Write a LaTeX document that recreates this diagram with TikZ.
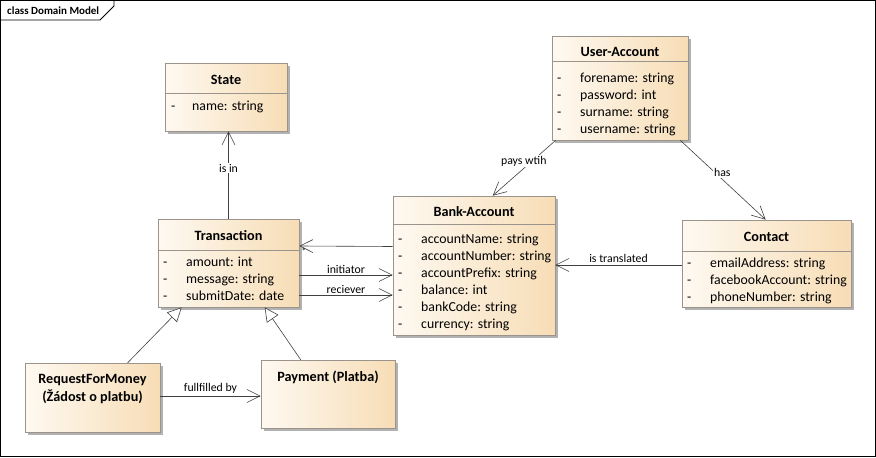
\documentclass[tikz,border=0pt]{standalone}
\usepackage{fontspec}
\setmainfont{Carlito}
\usetikzlibrary{arrows.meta,shadows}
\definecolor{creamL}{HTML}{FEF9F1}
\definecolor{creamR}{HTML}{F7DDB6}
\definecolor{boxline}{HTML}{9A948C}
\definecolor{wire}{HTML}{404040}
\begin{document}
\begin{tikzpicture}[x=1pt, y=-1pt,
    every node/.style={font=\fontsize{13.8}{16}\selectfont},
    classbox/.style={draw=boxline, line width=0.6pt, left color=creamL, right color=creamR,
      drop shadow={shadow xshift=3pt, shadow yshift=-3pt, fill=black!30, opacity=1}, inner sep=0pt},
    title/.style={font=\fontsize{14.2}{18}\selectfont\bfseries, align=center, inner sep=0pt},
    attr/.style={anchor=west, inner sep=0pt, text height=9.5pt, text depth=2.5pt},
    sepline/.style={draw=boxline, line width=0.6pt},
    assoc/.style={draw=wire, line width=0.6pt, -{Straight Barb[length=13pt, width=13pt]}},
    general/.style={draw=wire, line width=0.6pt, -{Triangle[open, length=14pt, width=14pt, fill=white]}},
    lbl/.style={font=\fontsize{11.8}{13}\selectfont, inner sep=1pt}]
  \useasboundingbox (0,0) rectangle (876,458);

  % Frame
  \draw[line width=0.8pt] (0.5,0.5) rectangle (875.5,456.5);
  \draw[line width=0.8pt] (0.5,20) -- (100,20) -- (114,6) -- (114,0.5);
  \node[font=\fontsize{11}{12}\selectfont\bfseries, anchor=west, inner sep=0pt] (frame) at (7,11) {class Domain Model};

  % Classes
  \node[classbox, minimum width=122pt, minimum height=68pt] (state) at (226,97) {};
  \node[classbox, minimum width=136pt, minimum height=104pt] (user) at (620,88) {};
  \node[classbox, minimum width=162pt, minimum height=139pt] (bank) at (474,265.5) {};
  \node[classbox, minimum width=141pt, minimum height=88pt] (trans) at (228.5,263) {};
  \node[classbox, minimum width=169pt, minimum height=87pt] (contact) at (766.5,263.5) {};
  \node[classbox, minimum width=135pt, minimum height=69pt] (request) at (92.5,397.5) {};
  \node[classbox, minimum width=134pt, minimum height=68pt] (payment) at (328,394) {};

  % Headers
  \node[title] at (226,80) {State};
  \node[title] at (620,52) {User-Account};
  \node[title] at (474,212) {Bank-Account};
  \node[title] at (228.5,236) {Transaction};
  \node[title] at (766.5,237) {Contact};
  \node[title] at (92.5,389) {RequestForMoney\\(Žádost o platbu)};
  \node[title] at (328,377) {Payment (Platba)};

  \draw[sepline] ([yshift=-31pt]state.north west) -- ([yshift=-31pt]state.north east);
  \draw[sepline] ([yshift=-26pt]user.north west) -- ([yshift=-26pt]user.north east);
  \draw[sepline] ([yshift=-29pt]bank.north west) -- ([yshift=-29pt]bank.north east);
  \draw[sepline] ([yshift=-32pt]trans.north west) -- ([yshift=-32pt]trans.north east);
  \draw[sepline] ([yshift=-32pt]contact.north west) -- ([yshift=-32pt]contact.north east);

  % Attributes
  \node[attr] at (171,107) {-};
  \node[attr] at (192,107) {name: string};
  \foreach \a [count=\i] in {forename: string, password: int, surname: string, username: string}
    {\node[attr] at (557,62+17*\i) {-}; \node[attr] at (580,62+17*\i) {\a};}
  \foreach \a [count=\i] in {accountName: string, accountNumber: string, accountPrefix: string,
      balance: int, bankCode: string, currency: string}
    {\node[attr] at (398,223+17*\i) {-}; \node[attr] at (421,223+17*\i) {\a};}
  \foreach \a [count=\i] in {amount: int, message: string, submitDate: date}
    {\node[attr] at (163,246+17*\i) {-}; \node[attr] at (186,246+17*\i) {\a};}
  \foreach \a [count=\i] in {emailAddress: string, facebookAccount: string, phoneNumber: string}
    {\node[attr] at (687,247+17*\i) {-}; \node[attr] at (710,247+17*\i) {\a};}

  % Associations
  \draw[assoc] (trans.north) -- node[lbl, fill=white, pos=0.58] {is in} (trans.north |- state.south);
  \draw[assoc] ([yshift=19pt]bank.west) -- ([yshift=17pt]trans.east)
    node[at end, below right, inner sep=2pt, font=\small] {*};
  \draw[assoc] ([yshift=-12pt]trans.east) -- node[lbl, above] {initiator} ([yshift=-12pt]trans.east -| bank.west);
  \draw[assoc] ([yshift=-32pt]trans.east) -- node[lbl, above] {reciever} ([yshift=-32pt]trans.east -| bank.west);
  \draw[assoc] ([xshift=4pt]user.south west) -- node[lbl, fill=white, pos=0.38, xshift=-8pt] {pays wtih} ([xshift=100pt]bank.north west);
  \draw[assoc] ([xshift=-8pt]user.south east) -- node[lbl, fill=white, pos=0.41, xshift=7pt] {has} ([xshift=84pt]contact.north west);
  \draw[assoc] ([yshift=-1.5pt]contact.west) -- node[lbl, above, yshift=1pt] {is translated} ([yshift=-1.5pt]contact.west -| bank.east);
  \draw[assoc] ([yshift=1.5pt]request.east) -- node[lbl, above, yshift=1pt] {fullfilled by} ([yshift=1.5pt]request.east -| payment.west);

  % Generalizations
  \draw[general] ([xshift=103pt]request.north west) -- ([xshift=24pt]trans.south west);
  \draw[general] ([xshift=40pt]payment.north west) -- ([xshift=107pt]trans.south west);
\end{tikzpicture}
\end{document}
